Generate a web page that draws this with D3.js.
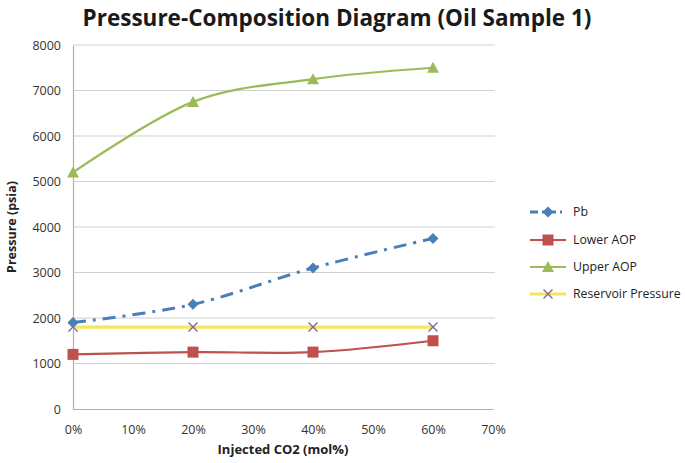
<!DOCTYPE html>
<html>
<head>
<meta charset="utf-8">
<script src="https://cdn.jsdelivr.net/npm/d3@7"></script>
<style>
  html, body { margin: 0; padding: 0; background: #fff; }
  svg { display: block; }
  text { font-family: "Open Sans", "Noto Sans", sans-serif; }
</style>
</head>
<body>
<script>
// Injected CO2 fractions and measured pressures (psia)
const co2Fractions = [0, 0.2, 0.4, 0.6];
const pbValues = [1900, 2300, 3100, 3750];
const lowerAopValues = [1200, 1250, 1250, 1500];
const upperAopValues = [5200, 6750, 7250, 7500];
const reservoirValues = [1800, 1800, 1800, 1800];
const yTicks = [0, 1000, 2000, 3000, 4000, 5000, 6000, 7000, 8000];
const xTicks = [0, 0.1, 0.2, 0.3, 0.4, 0.5, 0.6, 0.7];

const seriesList = [
  { name: "Pb", values: pbValues, color: "#4a7ebb", width: 3, dash: "13,7,3,7", marker: "diamond", smooth: true },
  { name: "Lower AOP", values: lowerAopValues, color: "#c0504d", width: 2.2, dash: null, marker: "square", smooth: true },
  { name: "Upper AOP", values: upperAopValues, color: "#9bbb59", width: 2.2, dash: null, marker: "triangle", smooth: true },
  { name: "Reservoir Pressure", values: reservoirValues, color: "#f3e85c", width: 3.2, dash: null, marker: "cross", markerColor: "#8064a2", smooth: false }
];

const W = 685, H = 463;
const svg = d3.select("body").append("svg").attr("width", W).attr("height", H);

const x = d3.scaleLinear().domain([0, 0.7]).range([73, 493]);
const y = d3.scaleLinear().domain([0, 8000]).range([409, 45]);

// Title
svg.append("text")
  .attr("x", 337).attr("y", 26)
  .attr("text-anchor", "middle")
  .attr("font-size", 22.5).attr("font-weight", "bold")
  .attr("fill", "#1a1a1a")
  .text("Pressure-Composition Diagram (Oil Sample 1)");

// Gridlines
svg.append("g").selectAll("line")
  .data(yTicks.filter(d => d > 0))
  .join("line")
  .attr("x1", x(0)).attr("x2", x(0.7) + 2)
  .attr("y1", d => y(d)).attr("y2", d => y(d))
  .attr("stroke", "#d0d0d0").attr("stroke-width", 1);

// Axes
const yAxis = d3.axisLeft(y).tickValues(yTicks).tickSize(0).tickPadding(12).tickFormat(d3.format("d"));
const xAxis = d3.axisBottom(x).tickValues(xTicks).tickSize(0).tickPadding(16).tickFormat(d3.format(".0%"));

const gy = svg.append("g").attr("transform", `translate(${x(0)},0)`).call(yAxis);
const gx = svg.append("g").attr("transform", `translate(0,${y(0)})`).call(xAxis);
[gy, gx].forEach(g => {
  g.select(".domain").attr("stroke", "#b0b0b0").attr("stroke-width", 1.2);
  g.selectAll("text").attr("font-size", 12.5).attr("fill", "#333")
    .attr("font-family", "'Open Sans', sans-serif");
});

// Axis titles
svg.append("text")
  .attr("transform", "translate(16,227) rotate(-90)")
  .attr("text-anchor", "middle")
  .attr("font-size", 12.5).attr("font-weight", "bold").attr("fill", "#222")
  .text("Pressure (psia)");
svg.append("text")
  .attr("x", 283).attr("y", 454)
  .attr("text-anchor", "middle")
  .attr("font-size", 13).attr("font-weight", "bold").attr("fill", "#222")
  .text("Injected CO2 (mol%)");

function drawMarker(g, type, cx, cy, s) {
  if (type === "diamond") {
    const r = 5.5;
    g.append("path").attr("d", `M${cx},${cy - r}L${cx + r},${cy}L${cx},${cy + r}L${cx - r},${cy}Z`).attr("fill", s.color);
  } else if (type === "square") {
    g.append("rect").attr("x", cx - 5.5).attr("y", cy - 5.5).attr("width", 11).attr("height", 11).attr("fill", s.color);
  } else if (type === "triangle") {
    g.append("path").attr("d", `M${cx},${cy - 6}L${cx + 6},${cy + 5}L${cx - 6},${cy + 5}Z`).attr("fill", s.color);
  } else if (type === "cross") {
    const r = 4.5;
    g.append("path").attr("d", `M${cx - r},${cy - r}L${cx + r},${cy + r}M${cx - r},${cy + r}L${cx + r},${cy - r}`)
      .attr("stroke", s.markerColor).attr("stroke-width", 1.4).attr("fill", "none");
  }
}

// Series lines and markers
const plot = svg.append("g");
seriesList.slice().reverse().forEach(s => {
  const pts = co2Fractions.map((c, i) => [c, s.values[i]]);
  const line = d3.line().x(d => x(d[0])).y(d => y(d[1]))
    .curve(s.smooth ? d3.curveCatmullRom.alpha(0) : d3.curveLinear);
  const g = plot.append("g");
  g.append("path").attr("d", line(pts))
    .attr("fill", "none").attr("stroke", s.color).attr("stroke-width", s.width)
    .attr("stroke-dasharray", s.dash);
  pts.forEach(p => drawMarker(g, s.marker, x(p[0]), y(p[1]), s));
});

// Legend
const legend = svg.append("g");
const legendY = [212, 240, 267, 294];
seriesList.forEach((s, i) => {
  const ly = legendY[i];
  const g = legend.append("g");
  g.append("line").attr("x1", 530).attr("x2", 566).attr("y1", ly).attr("y2", ly)
    .attr("stroke", s.color).attr("stroke-width", s.width)
    .attr("stroke-dasharray", s.dash ? "8,4,2,4" : null);
  drawMarker(g, s.marker, 548, ly, s);
  g.append("text").attr("x", 573).attr("y", ly + 4)
    .attr("font-size", 12.3).attr("fill", "#222")
    .text(s.name);
});
</script>
</body>
</html>
